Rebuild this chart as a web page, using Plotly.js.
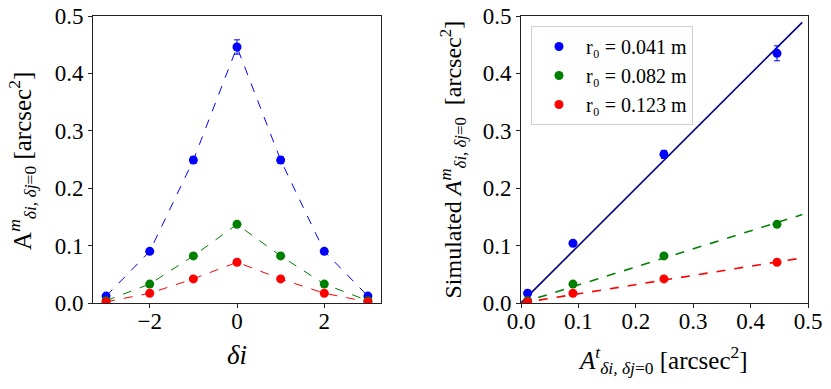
<!DOCTYPE html>
<html>
<head>
<meta charset="utf-8">
<script src="https://cdn.plot.ly/plotly-3.0.1.min.js"></script>
<style>
  body { margin: 0; background: white; }
  #plot { width: 831px; height: 389px; }
</style>
</head>
<body>
<div id="plot"></div>
<script>
// left panel: A^m vs delta i
const di = [-3, -2, -1, 0, 1, 2, 3];
const blueL  = [0.012, 0.090, 0.249, 0.446, 0.249, 0.090, 0.012];
const blueLerr = [0.002, 0.003, 0.006, 0.0125, 0.006, 0.003, 0.002];
const greenL = [0.004, 0.033, 0.082, 0.137, 0.082, 0.033, 0.004];
const greenLerr = [0.001, 0.002, 0.002, 0.003, 0.002, 0.002, 0.001];
const redL   = [0.002, 0.017, 0.042, 0.071, 0.042, 0.017, 0.002];
const redLerr = [0.001, 0.001, 0.002, 0.002, 0.002, 0.001, 0.001];

// right panel: simulated vs theoretical
const At = [0.0115, 0.0905, 0.249, 0.446];
const blueR  = [0.017, 0.104, 0.259, 0.435];
const blueRerr = [0.002, 0.003, 0.007, 0.013];
const greenR = [0.004, 0.033, 0.082, 0.137];
const greenRerr = [0.001, 0.001, 0.002, 0.002];
const redR   = [0.002, 0.017, 0.042, 0.071];
const redRerr = [0.001, 0.001, 0.001, 0.002];
const fitX = [0, 0.49];
const fitBlue  = [0, 0.489];
const fitGreen = [0, 0.154];
const fitRed   = [0, 0.0785];

const legendNames = ["r₀ = 0.041 m", "r₀ = 0.082 m", "r₀ = 0.123 m"];

const FONT = "Liberation Serif";
const TICK = 23;

function leftTrace(y, err, color) {
  return {
    x: di, y: y, xaxis: "x", yaxis: "y",
    type: "scatter", mode: "lines+markers", showlegend: false,
    line: { color: color, width: 1, dash: "dash" },
    marker: { color: color, size: 9 },
    error_y: { type: "data", array: err, color: color, thickness: 1, width: 3 }
  };
}

function rightPts(y, err, color, name) {
  return {
    x: At, y: y, xaxis: "x2", yaxis: "y2",
    type: "scatter", mode: "markers", name: name,
    marker: { color: color, size: 9 },
    error_y: { type: "data", array: err, color: color, thickness: 1, width: 3 }
  };
}

function fitLine(y, color, dash) {
  return {
    x: fitX, y: y, xaxis: "x2", yaxis: "y2",
    type: "scatter", mode: "lines", showlegend: false,
    line: { color: color, width: 1.6, dash: dash }
  };
}

const traces = [
  leftTrace(blueL, blueLerr, "#0000ff"),
  leftTrace(greenL, greenLerr, "#008000"),
  leftTrace(redL, redLerr, "#ff0000"),
  fitLine(fitBlue, "#000080", "solid"),
  fitLine(fitGreen, "#008000", "dash"),
  fitLine(fitRed, "#ff0000", "dash"),
  rightPts(blueR, blueRerr, "#0000ff", legendNames[0]),
  rightPts(greenR, greenRerr, "#008000", legendNames[1]),
  rightPts(redR, redRerr, "#ff0000", legendNames[2])
];

function axis(extra) {
  return Object.assign({
    showgrid: false, zeroline: false,
    showline: true, mirror: true, linecolor: "#222", linewidth: 1,
    ticks: "outside", ticklen: 4, tickcolor: "#222",
    tickfont: { family: FONT, size: TICK, color: "black" }
  }, extra);
}

function label(text, x, y, angle, size) {
  return {
    text: text, xref: "paper", yref: "paper", x: x, y: y,
    xanchor: "center", yanchor: "middle", textangle: angle,
    showarrow: false, font: { family: FONT, size: size, color: "black" }
  };
}

const layout = {
  width: 831, height: 389,
  margin: { l: 0, r: 0, t: 16, b: 86 },
  paper_bgcolor: "white", plot_bgcolor: "white",
  font: { family: FONT, size: 12, color: "black" },
  xaxis: axis({ domain: [93 / 831, 381 / 831], range: [-3.3, 3.3], tickvals: [-2, 0, 2], anchor: "y", ticklabelstandoff: -7 }),
  yaxis: axis({ domain: [0, 1], range: [0, 0.5], dtick: 0.1, tickformat: ".1f", anchor: "x" }),
  xaxis2: axis({ domain: [521 / 831, 808 / 831], range: [0, 0.5], dtick: 0.1, tickformat: ".1f", anchor: "y2", ticklabelstandoff: -7 }),
  yaxis2: axis({ domain: [0, 1], range: [0, 0.5], dtick: 0.1, tickformat: ".1f", anchor: "x2" }),
  legend: {
    x: 531 / 831, y: 0.965, xanchor: "left", yanchor: "top",
    bgcolor: "white", bordercolor: "#d0d0d0", borderwidth: 1,
    font: { family: FONT, size: 20, color: "black" },
    itemwidth: 44, tracegroupgap: 0
  },
  annotations: [
    label("A<sup><i>m</i></sup><sub><i>δi, δj</i>=0</sub> [arcsec<sup>2</sup>]", 22 / 831, 0.495, -90, 25),
    label("<i>δi</i>", 237 / 831, -0.18, 0, 27),
    label("Simulated <i>A</i><sup><i>m</i></sup><sub><i>δi, δj</i>=0</sub>  [arcsec<sup>2</sup>]", 452 / 831, 0.5, -90, 24),
    label("<i>A</i><sup><i>t</i></sup><sub><i>δi, δj</i>=0</sub> [arcsec<sup>2</sup>]", 663 / 831, -0.2, 0, 25)
  ]
};

Plotly.newPlot("plot", traces, layout, { staticPlot: true });
</script>
</body>
</html>
